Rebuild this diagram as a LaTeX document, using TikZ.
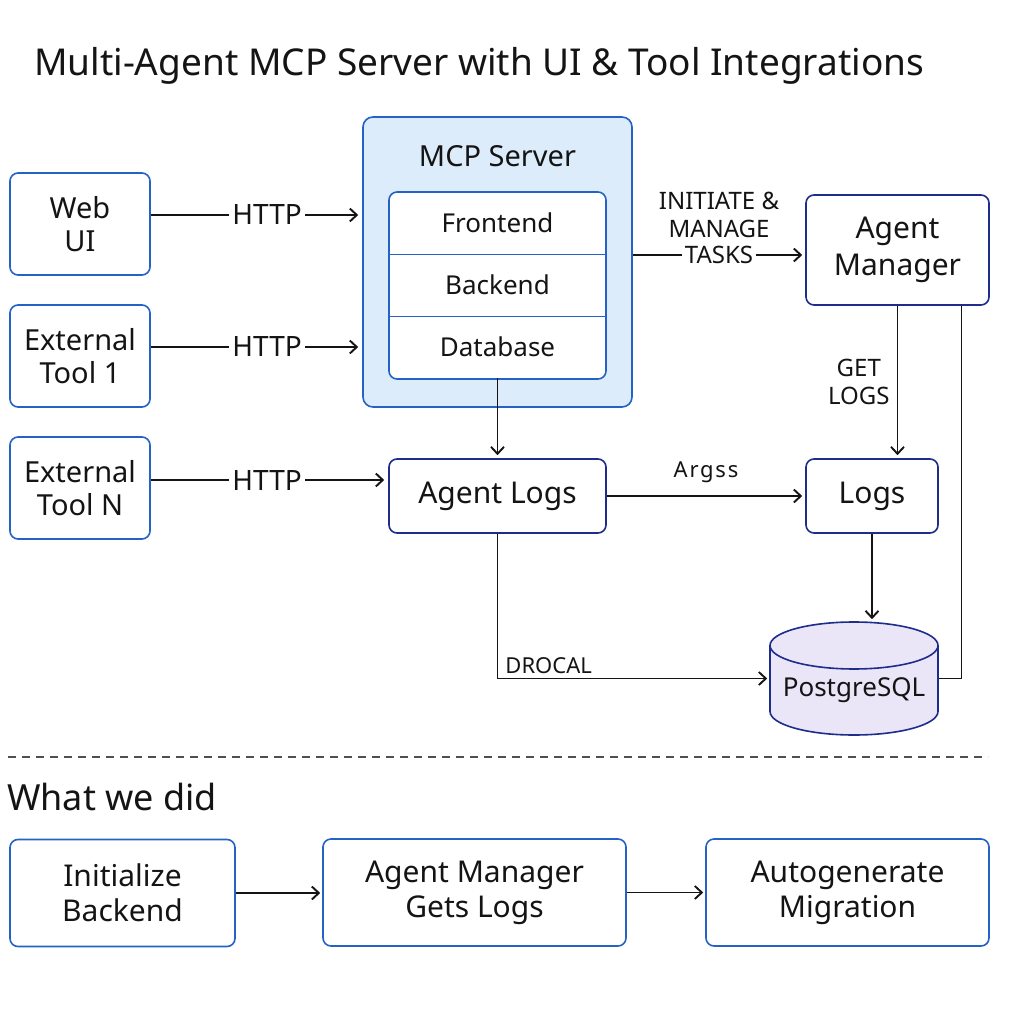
\documentclass[tikz,border=0pt]{standalone}
\usepackage{fontspec}
\setmainfont{Noto Sans}
\usetikzlibrary{positioning,shapes.geometric,arrows.meta}

\definecolor{edgeblue}{HTML}{2462C6}
\definecolor{navy}{HTML}{1E2D8C}
\definecolor{serverfill}{HTML}{DDECFB}
\definecolor{pgfill}{HTML}{EBE5F8}
\definecolor{ink}{HTML}{141414}

\newcommand{\fsz}[2]{\fontsize{#1}{#2}\selectfont}

\begin{document}
\begin{tikzpicture}[x=1pt, y=-1pt, text=ink,
  >={Straight Barb[length=7pt,width=13pt]},
  box/.style={draw=edgeblue, line width=1.6pt, rounded corners=8pt, fill=white, align=center, inner sep=0pt},
  tool/.style={box, minimum width=140pt, minimum height=102pt, font=\fsz{29}{33}},
  agent/.style={box, draw=navy, minimum height=74pt, font=\fsz{30}{37}},
  row/.style={minimum width=217pt, minimum height=62pt, inner sep=0pt, font=\fsz{26}{30}},
  via/.style={fill=white, inner sep=3pt, font=\fsz{28}{32}},
  tag/.style={font=\fsz{24}{28}, align=center, inner sep=0pt},
  wire/.style={draw=ink, line width=1.9pt},
  stepbox/.style={box, minimum height=107pt, font=\fsz{30}{35}}]
\fill[white] (0,0) rectangle (1024,1024);
\useasboundingbox (0,0) rectangle (1024,1024);

% title
\node[anchor=base west, inner sep=0pt, font=\fsz{37}{44}] (title) at (34,76) {Multi-Agent MCP Server with UI \& Tool Integrations};

% clients
\node[tool] (web) at (80,224) {Web\\UI};
\node[tool] (ext1) at (80,356) {External\\Tool 1};
\node[tool] (extN) at (80,488) {External\\Tool N};

% server
\node[box, fill=serverfill, rounded corners=10pt, minimum width=269pt, minimum height=290pt] (mcp) at (497.5,262) {};
\node[font=\fsz{29}{34}] (mcptitle) at (497.5,156) {MCP Server};
\node[box, minimum width=217pt, minimum height=187pt] (stack) at (497.5,285.5) {};
\node[row] (front) at (497.5,223) {Frontend};
\node[row] (back) at (497.5,285) {Backend};
\node[row] (data) at (497.5,347) {Database};
\draw[edgeblue, line width=1.4pt] (front.south west) -- (front.south east);
\draw[edgeblue, line width=1.4pt] (back.south west) -- (back.south east);

% agents
\node[agent, minimum width=183pt, minimum height=110pt] (mgr) at (897.5,250) {Agent\\Manager};
\node[agent, minimum width=217pt] (alogs) at (497.5,496) {Agent Logs};
\node[agent, minimum width=132pt] (logs) at (872,496) {Logs};
\node[cylinder, shape border rotate=90, aspect=0.33, draw=navy, fill=pgfill, line width=1.6pt,
  minimum width=168pt, minimum height=113pt, inner sep=0pt, font=\fsz{26}{30},
  anchor=shape center] (pg) at (854,678.5) {PostgreSQL};
\coordinate (pgmid) at (pg.shape center);

% connectors
\draw[wire, ->, shorten >=4pt] ([yshift=9pt]web.east) -- node[via, pos=0.55] {HTTP} ([yshift=9pt]web.east -| mcp.west);
\draw[wire, ->, shorten >=4pt] ([yshift=9pt]ext1.east) -- node[via, pos=0.55] {HTTP} ([yshift=9pt]ext1.east -| mcp.west);
\draw[wire, ->, shorten >=4pt] ([yshift=8pt]extN.east) -- node[via, pos=0.49] {HTTP} ([yshift=8pt]extN.east -| alogs.west);

\draw[wire, ->, shorten >=3pt] ([yshift=7pt]mcp.east) -- node[via, font=\fsz{24}{28}] (tasks) {TASKS} ([yshift=7pt]mcp.east -| mgr.west);
\node[tag, above=4pt of tasks] (initiate) {INITIATE \&\\MANAGE};

\draw[wire, ->, shorten >=3pt] (mgr.south) -- node[tag, left=7pt] (getlogs) {GET\\LOGS} (mgr.south |- logs.north);
\draw[wire] ([xshift=64pt]mgr.south) |- (pgmid -| pg.east);

\draw[wire, ->, shorten >=3pt] (data.south) -- (alogs.north);
\draw[wire, ->, shorten >=3pt] (alogs.east) -- node[above=9pt, font=\fsz{22}{26}\addfontfeature{LetterSpace=8}] (args) {Argss} (logs.west);
\draw[wire, ->, shorten >=2pt] (logs.south) -- (logs.south |- pg.north);
\draw[wire, ->, shorten >=2pt] (alogs.south) |- node[pos=0.5, above right=2pt and 5pt, inner sep=2pt, font=\bfseries\fsz{22}{26}] (drocal) {DROCAL} (pgmid -| pg.west);

% what we did
\draw[ink!75, line width=1.2pt, dash pattern=on 8pt off 6pt] (8,757) -- (988,757);
\node[anchor=base west, inner sep=0pt, font=\fsz{36}{42}] (did) at (7,810) {What we did};

\node[stepbox, minimum width=225pt] (init) at (122.5,893) {Initialize\\Backend};
\node[stepbox, minimum width=303pt] (gets) at (474.5,892.5) {Agent Manager\\Gets Logs};
\node[stepbox, minimum width=283pt] (autogen) at (847.5,892.5) {Autogenerate\\Migration};
\draw[wire, ->, shorten >=2pt] (init.east) -- (init.east -| gets.west);
\draw[wire, ->, shorten >=2pt] (gets.east) -- (gets.east -| autogen.west);
\end{tikzpicture}
\end{document}
